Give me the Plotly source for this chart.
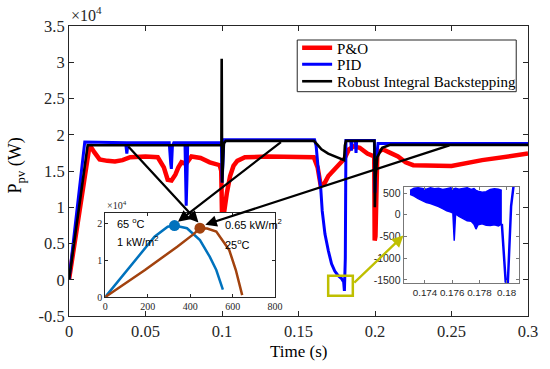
import plotly.graph_objects as go

# ---------------- main chart data (power in units of 1e4 W) ----------------
t_po = [0, 0.0135, 0.0165, 0.02, 0.025, 0.03, 0.035, 0.04, 0.05, 0.058, 0.062, 0.0645,
        0.067, 0.0695, 0.0715, 0.0735, 0.0765, 0.08, 0.086, 0.092, 0.0985, 0.0995, 0.1,
        0.1015, 0.1032, 0.1053, 0.1075, 0.11, 0.115, 0.13, 0.16, 0.1625, 0.1645, 0.167,
        0.1695, 0.1725, 0.1756, 0.18, 0.183, 0.186, 0.19, 0.195, 0.1995, 0.1998, 0.2003,
        0.2015, 0.205, 0.21, 0.215, 0.22, 0.225, 0.25, 0.27, 0.3]
p_po = [0, 1.86, 1.76, 1.66, 1.64, 1.63, 1.65, 1.69, 1.70, 1.69, 1.55, 1.38,
        1.37, 1.45, 1.55, 1.62, 1.60, 1.70, 1.68, 1.62, 1.58, 1.50, 0.90,
        0.95, 1.20, 1.43, 1.57, 1.64, 1.69, 1.70, 1.69, 1.55, 1.30, 1.33,
        1.43, 1.50, 1.57, 1.67, 1.80, 1.84, 1.82, 1.74, 1.70, 0.54, 0.60,
        1.75, 1.80, 1.75, 1.70, 1.62, 1.58, 1.57, 1.65, 1.74]

t_pid = [0, 0.0103, 0.037, 0.0378, 0.0386, 0.0655, 0.0665, 0.0669, 0.0676, 0.0685,
         0.0758, 0.0763, 0.0766, 0.0771, 0.0776, 0.0996, 0.1, 0.1006, 0.1012, 0.1605,
         0.1615, 0.163, 0.1645, 0.1655, 0.1673, 0.1695, 0.1716, 0.1737, 0.1758, 0.178,
         0.1795, 0.18, 0.1806, 0.181, 0.1842, 0.1846, 0.185, 0.1872, 0.1876, 0.188,
         0.1996, 0.2, 0.2005, 0.202, 0.3]
p_pid = [0, 1.90, 1.89, 1.74, 1.89, 1.89, 1.60, 1.53, 1.85, 1.89,
         1.89, 1.30, 1.02, 1.40, 1.89, 1.89, 1.34, 1.60, 1.93, 1.93,
         1.85, 1.50, 1.27, 0.95, 0.63, 0.40, 0.22, 0.12, 0.06, 0.02,
         -0.03, -0.155, 0.30, 1.92, 1.92, 1.78, 1.92, 1.92, 1.75, 1.92,
         1.92, 1.20, 1.60, 1.88, 1.88]

t_rib = [0, 0.0122, 0.0996, 0.0998, 0.1001, 0.1006, 0.1012, 0.1025, 0.16, 0.1625,
         0.165, 0.1694, 0.1756, 0.1798, 0.1803, 0.181, 0.1996, 0.1999, 0.2003,
         0.2015, 0.2047, 0.21, 0.3]
p_rib = [0, 1.855, 1.855, 3.05, 1.34, 1.75, 1.88, 1.915, 1.915, 1.86,
         1.80, 1.74, 1.68, 1.65, 1.85, 1.915, 1.915, 1.00, 1.40,
         1.69, 1.82, 1.86, 1.86]

series_names = ["P&amp;O", "PID", "Robust Integral Backstepping"]

x_ticks = [0, 0.05, 0.1, 0.15, 0.2, 0.25, 0.3]
x_ticktext = ["0", "0.05", "0.1", "0.15", "0.2", "0.25", "0.3"]
y_ticks = [-0.5, 0, 0.5, 1, 1.5, 2, 2.5, 3, 3.5]
y_ticktext = ["-0.5", "0", "0.5", "1", "1.5", "2", "2.5", "3", "3.5"]

# ---------------- inset 1: P-V curves ----------------
v_hot = [0, 79, 156, 232, 294, 326, 385, 446, 492, 523, 554]
p_hot = [0, 0.55, 1.09, 1.63, 1.90, 1.93, 1.86, 1.54, 1.09, 0.73, 0.20]
v_cold = [0, 187, 339, 416, 446, 480, 523, 584, 615, 645]
p_cold = [0, 0.73, 1.36, 1.70, 1.86, 1.85, 1.77, 1.27, 0.73, 0.05]
mpp_hot = (326, 1.93)
mpp_cold = (446, 1.86)
ins1_xticks = [0, 200, 400, 600, 800]
ins1_yticks = [0, 1, 2]

# ---------------- inset 2: zoom of PID around 0.18 s (W) ----------------
t_z = [0.1729, 0.1732, 0.1735, 0.1738, 0.1741, 0.1744, 0.1747, 0.1750, 0.1753, 0.1756,
       0.1759, 0.17605, 0.17615, 0.17625, 0.1765, 0.1768, 0.1771, 0.1774, 0.1776, 0.17775,
       0.1779, 0.1782, 0.1785, 0.1788, 0.1791, 0.1794, 0.17965]
z_low = [470, 430, 370, 330, 280, 260, 230, 190, 140, 90,
         60, 40, -600, 20, -40, -90, -140, -150, -220, -330,
         -230, -210, -240, -250, -230, -260, -210]
z_up = [560, 610, 620, 600, 590, 620, 600, 610, 580, 600,
        620, 590, 600, 610, 590, 600, 620, 580, 600, 560,
        540, 520, 530, 580, 600, 590, 560]
t_v = [0.17965, 0.17993, 0.18009, 0.18033, 0.1805]
z_v = [-210, -1540, -1560, 200, 640]
ins2_xticks = [0.174, 0.176, 0.178, 0.18]
ins2_xtext = ["0.174", "0.176", "0.178", "0.18"]
ins2_yticks = [-1500, -1000, -500, 0, 500]
ins2_ytext = ["-1500", "-1000", "-500", "0", "500"]

SERIF = "Liberation Serif"
SANS = "Liberation Sans"
AX = "#262626"

fig = go.Figure()
fig.add_trace(go.Scatter(x=t_po, y=p_po, mode="lines", name=series_names[0], legend="legend",
                         line=dict(color="#FF0000", width=4.5)))
fig.add_trace(go.Scatter(x=t_pid, y=p_pid, mode="lines", name=series_names[1], legend="legend2",
                         line=dict(color="#0000FF", width=3)))
fig.add_trace(go.Scatter(x=t_rib, y=p_rib, mode="lines", name=series_names[2], legend="legend3",
                         line=dict(color="#000000", width=2.6)))

# inset 1
fig.add_trace(go.Scatter(x=v_hot, y=p_hot, mode="lines", xaxis="x2", yaxis="y2",
                         line=dict(color="#0072BD", width=2.5), showlegend=False))
fig.add_trace(go.Scatter(x=v_cold, y=p_cold, mode="lines", xaxis="x2", yaxis="y2",
                         line=dict(color="#A2420E", width=2.5), showlegend=False))
fig.add_trace(go.Scatter(x=[mpp_hot[0]], y=[mpp_hot[1]], mode="markers", xaxis="x2", yaxis="y2",
                         marker=dict(color="#0072BD", size=11), showlegend=False))
fig.add_trace(go.Scatter(x=[mpp_cold[0]], y=[mpp_cold[1]], mode="markers", xaxis="x2", yaxis="y2",
                         marker=dict(color="#A2420E", size=11), showlegend=False))

# inset 2
fig.add_trace(go.Scatter(x=t_z, y=z_low, mode="lines", xaxis="x3", yaxis="y3",
                         line=dict(color="#0000FF", width=1.5), showlegend=False))
fig.add_trace(go.Scatter(x=t_z, y=z_up, mode="lines", xaxis="x3", yaxis="y3", fill="tonexty",
                         fillcolor="#0000FF", line=dict(color="#0000FF", width=1.5),
                         showlegend=False))
fig.add_trace(go.Scatter(x=t_v, y=z_v, mode="lines", xaxis="x3", yaxis="y3",
                         line=dict(color="#0000FF", width=2.5), showlegend=False))

ax_common = dict(showline=True, linecolor=AX, linewidth=1, mirror="ticks", ticks="inside",
                 tickcolor=AX, showgrid=False, zeroline=False)
ax_grey = {**ax_common, "linecolor": "#777", "tickcolor": "#777"}

legend_style = dict(x=0.497, xanchor="left", yanchor="middle", bgcolor="rgba(0,0,0,0)",
                    borderwidth=0, font=dict(family=SERIF, size=15, color="#000"),
                    itemwidth=30)

fig.update_layout(
    width=550, height=369,
    margin=dict(l=69, r=13, t=26, b=53),
    paper_bgcolor="white", plot_bgcolor="white",
    font=dict(family=SERIF, color="#000000"),
    xaxis=dict(range=[0, 0.3], tickvals=x_ticks, ticktext=x_ticktext, ticklen=5,
               tickfont=dict(family=SERIF, size=16.5, color=AX), **ax_common),
    yaxis=dict(range=[-0.5, 3.5], tickvals=y_ticks, ticktext=y_ticktext, ticklen=5,
               tickfont=dict(family=SERIF, size=16.5, color=AX), **ax_common),
    xaxis2=dict(domain=[0.079, 0.449], anchor="y2", range=[0, 800], tickvals=ins1_xticks,
                ticklen=3, tickfont=dict(family=SERIF, size=10, color=AX), **ax_common),
    yaxis2=dict(domain=[0.0655, 0.355], anchor="x2", range=[0, 2.27], tickvals=ins1_yticks,
                ticklen=3, tickfont=dict(family=SERIF, size=10, color=AX), **ax_common),
    xaxis3=dict(domain=[0.729, 0.981], anchor="y3", range=[0.17243, 0.18093],
                tickvals=ins2_xticks, ticktext=ins2_xtext, ticklen=3, tickangle=0,
                tickfont=dict(family=SANS, size=9.8, color=AX), **ax_grey),
    yaxis3=dict(domain=[0.114, 0.445], anchor="x3", range=[-1570, 640],
                tickvals=ins2_yticks, ticktext=ins2_ytext, ticklen=3,
                tickfont=dict(family=SANS, size=10.5, color=AX), **ax_grey),
    legend=dict(y=(316 - 48) / 290, **legend_style),
    legend2=dict(y=(316 - 64.5) / 290, **legend_style),
    legend3=dict(y=(316 - 81.5) / 290, **legend_style),
    showlegend=True,
)

# white backgrounds for the insets
fig.add_shape(type="rect", xref="x2", yref="y2", x0=0, x1=800, y0=0, y1=2.27,
              fillcolor="white", line=dict(width=0), layer="below")
fig.add_shape(type="rect", xref="x3", yref="y3", x0=0.17243, x1=0.18093, y0=-1570, y1=640,
              fillcolor="white", line=dict(width=0), layer="below")
# legend frame
fig.add_shape(type="rect", xref="paper", yref="paper", x0=(301.7 - 69) / 468, x1=(525 - 69) / 468,
              y0=(316 - 91.7) / 290, y1=(316 - 40) / 290, fillcolor="white",
              line=dict(color=AX, width=1), layer="above")
# yellow zoom box on main chart
fig.add_shape(type="rect", xref="x", yref="y", x0=0.1694, x1=0.1855, y0=-0.22, y1=0.055,
              line=dict(color="#BFBF00", width=2.5), layer="above")

ann = []
ann.append(dict(xref="paper", yref="paper", x=0.0, y=1.0, xanchor="left", yanchor="bottom",
                text="×10<sup>4</sup>", showarrow=False, font=dict(family=SERIF, size=16, color=AX)))
ann.append(dict(xref="x2 domain", yref="y2 domain", x=0.0, y=1.0, xanchor="left", yanchor="bottom",
                text="×10<sup>4</sup>", showarrow=False, font=dict(family=SERIF, size=10, color=AX)))
ann.append(dict(xref="paper", yref="paper", x=0.5, y=-0.124, xanchor="center", yanchor="middle",
                text="Time (s)", showarrow=False, font=dict(family=SERIF, size=17, color="#000")))
ann.append(dict(xref="paper", yref="paper", x=-0.115, y=0.52, xanchor="center", yanchor="middle",
                text="P<sub>pv</sub> (W)", textangle=-90, showarrow=False,
                font=dict(family=SERIF, size=18, color="#000")))
for txt, xx, yy in [("65 <sup>o</sup>C", 116, 223), ("1 kW/m<sup>2</sup>", 116, 241),
                    ("0.65 kW/m<sup>2</sup>", 226, 224), ("25<sup>o</sup>C", 226, 244)]:
    ann.append(dict(xref="paper", yref="paper", x=(xx - 69) / 468, y=(316 - yy) / 290,
                    xanchor="left", yanchor="middle", text=txt, showarrow=False,
                    font=dict(family=SANS, size=11, color="#000")))
for (tx, ty, hx, hy) in [(0.038, 1.855, 0.0846, 0.79), (0.1395, 1.915, 0.0712, 0.80),
                         (0.2496, 1.86, 0.0891, 0.76)]:
    ann.append(dict(xref="x", yref="y", axref="x", ayref="y", x=hx, y=hy, ax=tx, ay=ty,
                    text="", showarrow=True, arrowhead=2, arrowsize=1, arrowwidth=2.3,
                    arrowcolor="#000"))
ann.append(dict(xref="x", yref="y", axref="x", ayref="y", x=0.2186, y=0.61, ax=0.1855, ay=-0.06,
                text="", showarrow=True, arrowhead=2, arrowsize=1, arrowwidth=2.3,
                arrowcolor="#BFBF00"))
fig.update_layout(annotations=ann)

fig.write_html("out.html", config={"displayModeBar": False},
               post_script="document.body.style.margin='0';")
